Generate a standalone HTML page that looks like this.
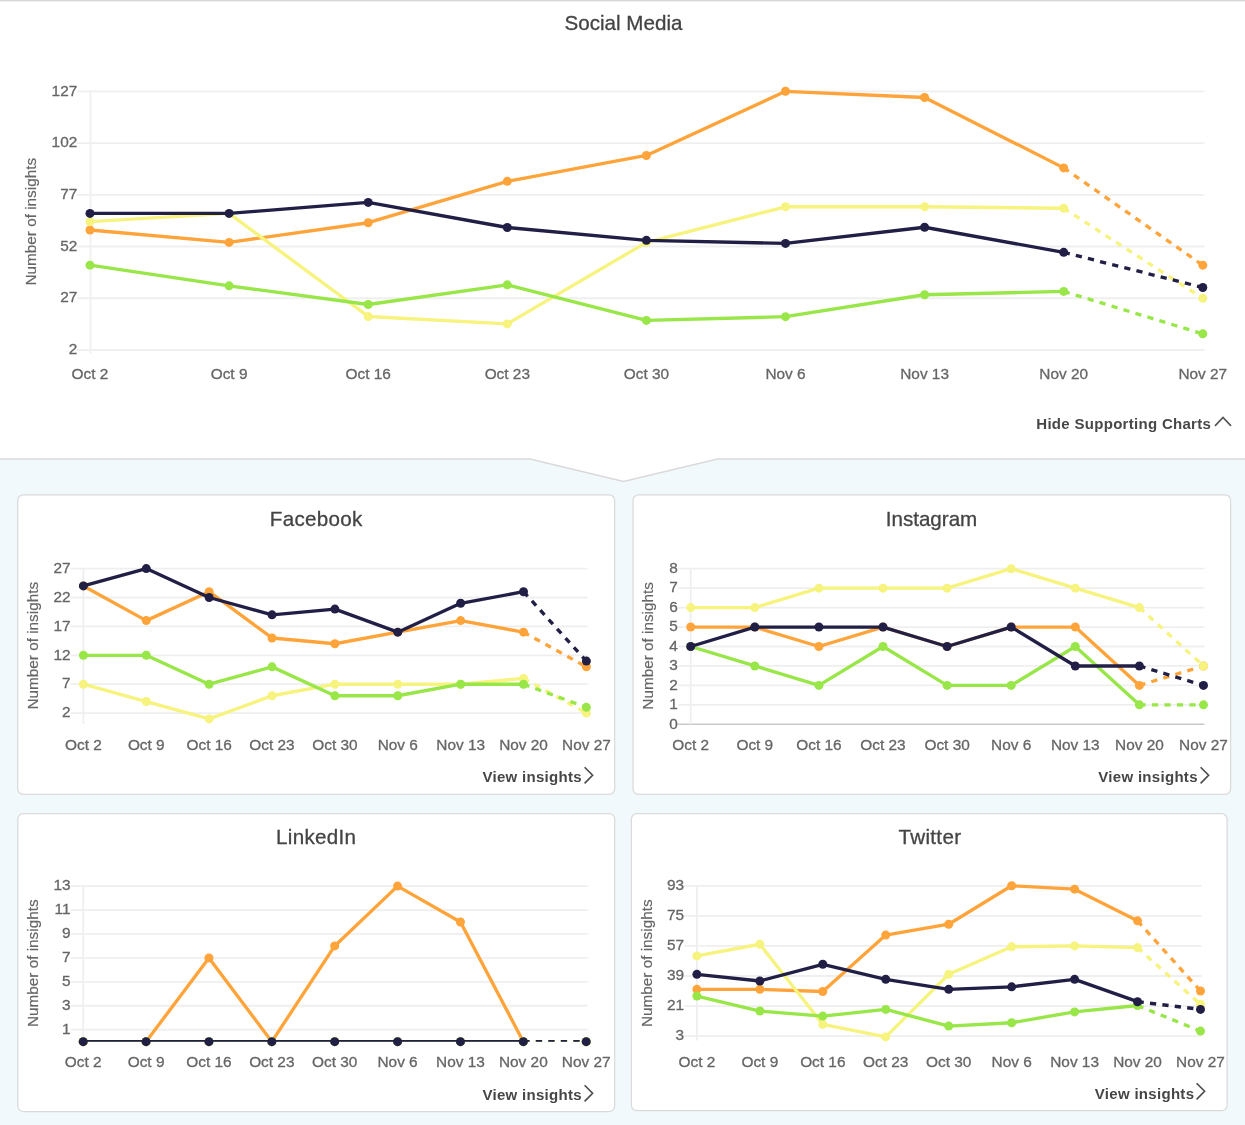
<!DOCTYPE html>
<html lang="en">
<head>
<meta charset="utf-8">
<title>Social Media</title>
<style>
html,body{margin:0;padding:0}
body{width:1245px;height:1125px;position:relative;overflow:hidden;background:#f2f9fd;
 font-family:"Liberation Sans",Arial,Helvetica,sans-serif;color:#444}
.page{position:absolute;left:-20px;top:-20px;width:1285px;height:1165px;background:#f2f9fd;filter:blur(.4px)}
.wrap{position:absolute;left:20px;top:20px;width:1245px;height:1125px}
.top{position:absolute;left:-20px;top:-20px;width:1285px;height:479px;background:#fff}
.topc{position:absolute;left:0;top:0;width:1245px;height:459px}
.topline{position:absolute;left:-20px;top:-20px;width:1285px;height:22px;background:linear-gradient(#d7d7d7 0,#d7d7d7 21px,#f1f1f1 21px,#f1f1f1 22px)}
h2{position:absolute;left:0;top:11px;-webkit-text-stroke:.3px #444;width:1247px;margin:0;text-align:center;font-size:20.6px;line-height:24px;font-weight:400;color:#444}
svg.ch{position:absolute;overflow:visible}
svg text{font-family:"Liberation Sans",Arial,Helvetica,sans-serif}
.tk text{font-size:15.4px;fill:#666;stroke:#666;stroke-width:.3px}
.yt{font-size:15.3px;fill:#666;stroke:#666;stroke-width:.2px}
.hide{position:absolute;right:33.8px;top:413.5px;font-size:15px;letter-spacing:.3px;line-height:20px;font-weight:700;color:#484848;white-space:nowrap;text-decoration:none}
.hide svg{position:absolute;left:100%;top:2px;margin-left:3.2px}
.sep{position:absolute;left:0;top:440px}
.card{position:absolute}
.card h3{position:absolute;width:300px;margin:0;-webkit-text-stroke:.3px #444;text-align:center;font-size:20.6px;letter-spacing:.3px;line-height:24px;font-weight:400;color:#444}
.vi{position:absolute;font-size:15px;letter-spacing:.3px;line-height:20px;font-weight:700;color:#464646;white-space:nowrap}
.vi .chev{position:absolute;left:100%;top:-1.3px;margin-left:1px}
</style>
</head>
<body>
<main class="page">
<div class="wrap">
<div class="top"></div>
<div class="topline"></div>
<div class="topc">
<h2>Social Media</h2>

<svg class="ch" style="left:0px;top:50px" width="1245" height="350" viewBox="0 50 1245 350">
<g stroke="#efefef" stroke-width="1.8" fill="none">
<line x1="77" y1="91.3" x2="1204.5" y2="91.3"/>
<line x1="77" y1="143.04" x2="1204.5" y2="143.04"/>
<line x1="77" y1="194.78" x2="1204.5" y2="194.78"/>
<line x1="77" y1="246.52" x2="1204.5" y2="246.52"/>
<line x1="77" y1="298.26" x2="1204.5" y2="298.26"/>
<line x1="77" y1="350" x2="1204.5" y2="350"/>
<line x1="90.5" y1="91.3" x2="90.5" y2="353.6"/>
</g>
<g class="tk" text-anchor="end">
<text x="77.3" y="95.5">127</text>
<text x="77.3" y="147.24">102</text>
<text x="77.3" y="198.98">77</text>
<text x="77.3" y="250.72">52</text>
<text x="77.3" y="302.46">27</text>
<text x="77.3" y="354.2">2</text>
</g>
<g class="tk" text-anchor="middle">
<text x="90" y="378.5">Oct 2</text>
<text x="229.1" y="378.5">Oct 9</text>
<text x="368.2" y="378.5">Oct 16</text>
<text x="507.3" y="378.5">Oct 23</text>
<text x="646.4" y="378.5">Oct 30</text>
<text x="785.5" y="378.5">Nov 6</text>
<text x="924.6" y="378.5">Nov 13</text>
<text x="1063.7" y="378.5">Nov 20</text>
<text x="1202.8" y="378.5">Nov 27</text>
</g>
<text class="yt" text-anchor="middle" transform="translate(36 221.7) rotate(-90)">Number of insights</text>
<g stroke="#ffa43a" fill="#ffa43a">
<polyline points="90,229.96 229.1,242.38 368.2,222.72 507.3,181.33 646.4,155.46 785.5,91.3 924.6,97.51 1063.7,167.88" fill="none" stroke-width="3.35" stroke-linejoin="round"/>
<line x1="1063.7" y1="167.88" x2="1202.8" y2="265.15" stroke-width="3.35" stroke-dasharray="6.25 6.25"/>
<g stroke="none"><circle cx="90" cy="229.96" r="4.5"/><circle cx="229.1" cy="242.38" r="4.5"/><circle cx="368.2" cy="222.72" r="4.5"/><circle cx="507.3" cy="181.33" r="4.5"/><circle cx="646.4" cy="155.46" r="4.5"/><circle cx="785.5" cy="91.3" r="4.5"/><circle cx="924.6" cy="97.51" r="4.5"/><circle cx="1063.7" cy="167.88" r="4.5"/><circle cx="1202.8" cy="265.15" r="4.5"/></g>
</g>
<g stroke="#f6f37e" fill="#f6f37e">
<polyline points="90,221.68 229.1,213.41 368.2,316.47 507.3,323.92 646.4,242.38 785.5,206.78 924.6,206.78 1063.7,208.23" fill="none" stroke-width="3.35" stroke-linejoin="round"/>
<line x1="1063.7" y1="208.23" x2="1202.8" y2="298.26" stroke-width="3.35" stroke-dasharray="6.25 6.25"/>
<g stroke="none"><circle cx="90" cy="221.68" r="4.5"/><circle cx="229.1" cy="213.41" r="4.5"/><circle cx="368.2" cy="316.47" r="4.5"/><circle cx="507.3" cy="323.92" r="4.5"/><circle cx="646.4" cy="242.38" r="4.5"/><circle cx="785.5" cy="206.78" r="4.5"/><circle cx="924.6" cy="206.78" r="4.5"/><circle cx="1063.7" cy="208.23" r="4.5"/><circle cx="1202.8" cy="298.26" r="4.5"/></g>
</g>
<g stroke="#98e648" fill="#98e648">
<polyline points="90,265.15 229.1,285.84 368.2,304.47 507.3,284.81 646.4,320.4 785.5,316.68 924.6,294.74 1063.7,291.43" fill="none" stroke-width="3.35" stroke-linejoin="round"/>
<line x1="1063.7" y1="291.43" x2="1202.8" y2="333.86" stroke-width="3.35" stroke-dasharray="6.25 6.25"/>
<g stroke="none"><circle cx="90" cy="265.15" r="4.5"/><circle cx="229.1" cy="285.84" r="4.5"/><circle cx="368.2" cy="304.47" r="4.5"/><circle cx="507.3" cy="284.81" r="4.5"/><circle cx="646.4" cy="320.4" r="4.5"/><circle cx="785.5" cy="316.68" r="4.5"/><circle cx="924.6" cy="294.74" r="4.5"/><circle cx="1063.7" cy="291.43" r="4.5"/><circle cx="1202.8" cy="333.86" r="4.5"/></g>
</g>
<g stroke="#211f45" fill="#211f45">
<polyline points="90,213.41 229.1,213.41 368.2,202.44 507.3,227.48 646.4,240.31 785.5,243.42 924.6,227.27 1063.7,252.31" fill="none" stroke-width="3.35" stroke-linejoin="round"/>
<line x1="1063.7" y1="252.31" x2="1202.8" y2="287.5" stroke-width="3.35" stroke-dasharray="6.25 6.25"/>
<g stroke="none"><circle cx="90" cy="213.41" r="4.5"/><circle cx="229.1" cy="213.41" r="4.5"/><circle cx="368.2" cy="202.44" r="4.5"/><circle cx="507.3" cy="227.48" r="4.5"/><circle cx="646.4" cy="240.31" r="4.5"/><circle cx="785.5" cy="243.42" r="4.5"/><circle cx="924.6" cy="227.27" r="4.5"/><circle cx="1063.7" cy="252.31" r="4.5"/><circle cx="1202.8" cy="287.5" r="4.5"/></g>
</g>
</svg>
<a class="hide">Hide Supporting Charts<svg width="18" height="11" viewBox="0 0 18 11"><polyline points="1,9.8 9,1.5 17,9.8" fill="none" stroke="#555" stroke-width="1.7"/></svg></a>
</div>
<svg class="sep" width="1245" height="50" viewBox="0 440 1245 50"><path d="M-1 430 L-1 459 L530 459 L623.5 481.5 L717.5 459 L1246 459 L1246 430 Z" fill="#fff" stroke="#d9d9d9" stroke-width="1.35"/></svg>
<section class="card fb" style="left:16px;top:493px;width:600px;height:303px">
<svg class="ch" style="left:0;top:0" width="600" height="303" viewBox="16 493 600 303">
<rect x="17.7" y="494.9" width="597" height="299.4" rx="5.5" fill="#fff" stroke="#dadada" stroke-width="1.25"/>
<g stroke="#efefef" stroke-width="1.8" fill="none">
<line x1="70.5" y1="568.6" x2="587.5" y2="568.6"/>
<line x1="70.5" y1="597.5" x2="587.5" y2="597.5"/>
<line x1="70.5" y1="626.4" x2="587.5" y2="626.4"/>
<line x1="70.5" y1="655.3" x2="587.5" y2="655.3"/>
<line x1="70.5" y1="684.2" x2="587.5" y2="684.2"/>
<line x1="70.5" y1="713.1" x2="587.5" y2="713.1"/>
<line x1="83.4" y1="568.6" x2="83.4" y2="724"/>
</g>
<g class="tk" text-anchor="end">
<text x="70.5" y="572.8">27</text>
<text x="70.5" y="601.7">22</text>
<text x="70.5" y="630.6">17</text>
<text x="70.5" y="659.5">12</text>
<text x="70.5" y="688.4">7</text>
<text x="70.5" y="717.3">2</text>
</g>
<g class="tk" text-anchor="middle">
<text x="83.4" y="750">Oct 2</text>
<text x="146.28" y="750">Oct 9</text>
<text x="209.15" y="750">Oct 16</text>
<text x="272.02" y="750">Oct 23</text>
<text x="334.9" y="750">Oct 30</text>
<text x="397.77" y="750">Nov 6</text>
<text x="460.65" y="750">Nov 13</text>
<text x="523.52" y="750">Nov 20</text>
<text x="586.4" y="750">Nov 27</text>
</g>
<text class="yt" text-anchor="middle" transform="translate(38.2 645.7) rotate(-90)">Number of insights</text>
<g stroke="#ffa43a" fill="#ffa43a">
<polyline points="83.4,585.94 146.28,620.62 209.15,591.72 272.02,637.96 334.9,643.74 397.77,632.18 460.65,620.62 523.52,632.18" fill="none" stroke-width="3.35" stroke-linejoin="round"/>
<line x1="523.52" y1="632.18" x2="586.4" y2="666.86" stroke-width="3.35" stroke-dasharray="6.25 6.25"/>
<g stroke="none"><circle cx="83.4" cy="585.94" r="4.5"/><circle cx="146.28" cy="620.62" r="4.5"/><circle cx="209.15" cy="591.72" r="4.5"/><circle cx="272.02" cy="637.96" r="4.5"/><circle cx="334.9" cy="643.74" r="4.5"/><circle cx="397.77" cy="632.18" r="4.5"/><circle cx="460.65" cy="620.62" r="4.5"/><circle cx="523.52" cy="632.18" r="4.5"/><circle cx="586.4" cy="666.86" r="4.5"/></g>
</g>
<g stroke="#f6f37e" fill="#f6f37e">
<polyline points="83.4,684.2 146.28,701.54 209.15,718.88 272.02,695.76 334.9,684.2 397.77,684.2 460.65,684.2 523.52,678.42" fill="none" stroke-width="3.35" stroke-linejoin="round"/>
<line x1="523.52" y1="678.42" x2="586.4" y2="713.1" stroke-width="3.35" stroke-dasharray="6.25 6.25"/>
<g stroke="none"><circle cx="83.4" cy="684.2" r="4.5"/><circle cx="146.28" cy="701.54" r="4.5"/><circle cx="209.15" cy="718.88" r="4.5"/><circle cx="272.02" cy="695.76" r="4.5"/><circle cx="334.9" cy="684.2" r="4.5"/><circle cx="397.77" cy="684.2" r="4.5"/><circle cx="460.65" cy="684.2" r="4.5"/><circle cx="523.52" cy="678.42" r="4.5"/><circle cx="586.4" cy="713.1" r="4.5"/></g>
</g>
<g stroke="#98e648" fill="#98e648">
<polyline points="83.4,655.3 146.28,655.3 209.15,684.2 272.02,666.86 334.9,695.76 397.77,695.76 460.65,684.2 523.52,684.2" fill="none" stroke-width="3.35" stroke-linejoin="round"/>
<line x1="523.52" y1="684.2" x2="586.4" y2="707.32" stroke-width="3.35" stroke-dasharray="6.25 6.25"/>
<g stroke="none"><circle cx="83.4" cy="655.3" r="4.5"/><circle cx="146.28" cy="655.3" r="4.5"/><circle cx="209.15" cy="684.2" r="4.5"/><circle cx="272.02" cy="666.86" r="4.5"/><circle cx="334.9" cy="695.76" r="4.5"/><circle cx="397.77" cy="695.76" r="4.5"/><circle cx="460.65" cy="684.2" r="4.5"/><circle cx="523.52" cy="684.2" r="4.5"/><circle cx="586.4" cy="707.32" r="4.5"/></g>
</g>
<g stroke="#211f45" fill="#211f45">
<polyline points="83.4,585.94 146.28,568.6 209.15,597.5 272.02,614.84 334.9,609.06 397.77,632.18 460.65,603.28 523.52,591.72" fill="none" stroke-width="3.35" stroke-linejoin="round"/>
<line x1="523.52" y1="591.72" x2="586.4" y2="661.08" stroke-width="3.35" stroke-dasharray="6.25 6.25"/>
<g stroke="none"><circle cx="83.4" cy="585.94" r="4.5"/><circle cx="146.28" cy="568.6" r="4.5"/><circle cx="209.15" cy="597.5" r="4.5"/><circle cx="272.02" cy="614.84" r="4.5"/><circle cx="334.9" cy="609.06" r="4.5"/><circle cx="397.77" cy="632.18" r="4.5"/><circle cx="460.65" cy="603.28" r="4.5"/><circle cx="523.52" cy="591.72" r="4.5"/><circle cx="586.4" cy="661.08" r="4.5"/></g>
</g>
</svg>
<h3 style="left:150.2px;top:13.6px">Facebook</h3>
<a class="vi" style="right:34.1px;top:274.1px">View insights<svg class="chev" width="12" height="19" viewBox="0 0 12 19"><polyline points="1.6,1.2 9.6,9.3 1.6,17.4" fill="none" stroke="#4a4a4a" stroke-width="1.6"/></svg></a>
</section>
<section class="card ig" style="left:632px;top:493px;width:600px;height:303px">
<svg class="ch" style="left:0;top:0" width="600" height="303" viewBox="632 493 600 303">
<rect x="633" y="494.9" width="597.6" height="299.5" rx="5.5" fill="#fff" stroke="#dadada" stroke-width="1.25"/>
<g stroke="#efefef" stroke-width="1.8" fill="none">
<line x1="678" y1="568.7" x2="1204.5" y2="568.7"/>
<line x1="678" y1="588.15" x2="1204.5" y2="588.15"/>
<line x1="678" y1="607.6" x2="1204.5" y2="607.6"/>
<line x1="678" y1="627.05" x2="1204.5" y2="627.05"/>
<line x1="678" y1="646.5" x2="1204.5" y2="646.5"/>
<line x1="678" y1="665.95" x2="1204.5" y2="665.95"/>
<line x1="678" y1="685.4" x2="1204.5" y2="685.4"/>
<line x1="678" y1="704.85" x2="1204.5" y2="704.85"/>
<line x1="678" y1="724.3" x2="1204.5" y2="724.3" stroke="#c9c9c9" stroke-width="1.5"/>
<line x1="690.7" y1="568.7" x2="690.7" y2="724.3"/>
</g>
<g class="tk" text-anchor="end">
<text x="677.8" y="572.9">8</text>
<text x="677.8" y="592.35">7</text>
<text x="677.8" y="611.8">6</text>
<text x="677.8" y="631.25">5</text>
<text x="677.8" y="650.7">4</text>
<text x="677.8" y="670.15">3</text>
<text x="677.8" y="689.6">2</text>
<text x="677.8" y="709.05">1</text>
<text x="677.8" y="728.5">0</text>
</g>
<g class="tk" text-anchor="middle">
<text x="690.7" y="750">Oct 2</text>
<text x="754.8" y="750">Oct 9</text>
<text x="818.9" y="750">Oct 16</text>
<text x="883" y="750">Oct 23</text>
<text x="947.1" y="750">Oct 30</text>
<text x="1011.2" y="750">Nov 6</text>
<text x="1075.3" y="750">Nov 13</text>
<text x="1139.4" y="750">Nov 20</text>
<text x="1203.5" y="750">Nov 27</text>
</g>
<text class="yt" text-anchor="middle" transform="translate(653 645.9) rotate(-90)">Number of insights</text>
<g stroke="#ffa43a" fill="#ffa43a">
<polyline points="690.7,627.05 754.8,627.05 818.9,646.5 883,627.05 947.1,646.5 1011.2,627.05 1075.3,627.05 1139.4,685.4" fill="none" stroke-width="3.35" stroke-linejoin="round"/>
<line x1="1139.4" y1="685.4" x2="1203.5" y2="665.95" stroke-width="3.35" stroke-dasharray="6.25 6.25"/>
<g stroke="none"><circle cx="690.7" cy="627.05" r="4.5"/><circle cx="754.8" cy="627.05" r="4.5"/><circle cx="818.9" cy="646.5" r="4.5"/><circle cx="883" cy="627.05" r="4.5"/><circle cx="947.1" cy="646.5" r="4.5"/><circle cx="1011.2" cy="627.05" r="4.5"/><circle cx="1075.3" cy="627.05" r="4.5"/><circle cx="1139.4" cy="685.4" r="4.5"/><circle cx="1203.5" cy="665.95" r="4.5"/></g>
</g>
<g stroke="#f6f37e" fill="#f6f37e">
<polyline points="690.7,607.6 754.8,607.6 818.9,588.15 883,588.15 947.1,588.15 1011.2,568.7 1075.3,588.15 1139.4,607.6" fill="none" stroke-width="3.35" stroke-linejoin="round"/>
<line x1="1139.4" y1="607.6" x2="1203.5" y2="665.95" stroke-width="3.35" stroke-dasharray="6.25 6.25"/>
<g stroke="none"><circle cx="690.7" cy="607.6" r="4.5"/><circle cx="754.8" cy="607.6" r="4.5"/><circle cx="818.9" cy="588.15" r="4.5"/><circle cx="883" cy="588.15" r="4.5"/><circle cx="947.1" cy="588.15" r="4.5"/><circle cx="1011.2" cy="568.7" r="4.5"/><circle cx="1075.3" cy="588.15" r="4.5"/><circle cx="1139.4" cy="607.6" r="4.5"/><circle cx="1203.5" cy="665.95" r="4.5"/></g>
</g>
<g stroke="#98e648" fill="#98e648">
<polyline points="690.7,646.5 754.8,665.95 818.9,685.4 883,646.5 947.1,685.4 1011.2,685.4 1075.3,646.5 1139.4,704.85" fill="none" stroke-width="3.35" stroke-linejoin="round"/>
<line x1="1139.4" y1="704.85" x2="1203.5" y2="704.85" stroke-width="3.35" stroke-dasharray="6.25 6.25"/>
<g stroke="none"><circle cx="690.7" cy="646.5" r="4.5"/><circle cx="754.8" cy="665.95" r="4.5"/><circle cx="818.9" cy="685.4" r="4.5"/><circle cx="883" cy="646.5" r="4.5"/><circle cx="947.1" cy="685.4" r="4.5"/><circle cx="1011.2" cy="685.4" r="4.5"/><circle cx="1075.3" cy="646.5" r="4.5"/><circle cx="1139.4" cy="704.85" r="4.5"/><circle cx="1203.5" cy="704.85" r="4.5"/></g>
</g>
<g stroke="#211f45" fill="#211f45">
<polyline points="690.7,646.5 754.8,627.05 818.9,627.05 883,627.05 947.1,646.5 1011.2,627.05 1075.3,665.95 1139.4,665.95" fill="none" stroke-width="3.35" stroke-linejoin="round"/>
<line x1="1139.4" y1="665.95" x2="1203.5" y2="685.4" stroke-width="3.35" stroke-dasharray="6.25 6.25"/>
<g stroke="none"><circle cx="690.7" cy="646.5" r="4.5"/><circle cx="754.8" cy="627.05" r="4.5"/><circle cx="818.9" cy="627.05" r="4.5"/><circle cx="883" cy="627.05" r="4.5"/><circle cx="947.1" cy="646.5" r="4.5"/><circle cx="1011.2" cy="627.05" r="4.5"/><circle cx="1075.3" cy="665.95" r="4.5"/><circle cx="1139.4" cy="665.95" r="4.5"/><circle cx="1203.5" cy="685.4" r="4.5"/></g>
</g>
</svg>
<h3 style="left:149.5px;top:13.6px;letter-spacing:0px">Instagram</h3>
<a class="vi" style="right:34.2px;top:274.2px">View insights<svg class="chev" width="12" height="19" viewBox="0 0 12 19"><polyline points="1.6,1.2 9.6,9.3 1.6,17.4" fill="none" stroke="#4a4a4a" stroke-width="1.6"/></svg></a>
</section>
<section class="card li" style="left:16px;top:812px;width:600px;height:301px">
<svg class="ch" style="left:0;top:0" width="600" height="301" viewBox="16 812 600 301">
<rect x="17.8" y="813.6" width="596.9" height="297.9" rx="5.5" fill="#fff" stroke="#dadada" stroke-width="1.25"/>
<g stroke="#efefef" stroke-width="1.8" fill="none">
<line x1="70.5" y1="886.1" x2="587.5" y2="886.1"/>
<line x1="70.5" y1="910.03" x2="587.5" y2="910.03"/>
<line x1="70.5" y1="933.97" x2="587.5" y2="933.97"/>
<line x1="70.5" y1="957.9" x2="587.5" y2="957.9"/>
<line x1="70.5" y1="981.83" x2="587.5" y2="981.83"/>
<line x1="70.5" y1="1005.77" x2="587.5" y2="1005.77"/>
<line x1="70.5" y1="1029.7" x2="587.5" y2="1029.7"/>
<line x1="83.2" y1="886.1" x2="83.2" y2="1041.7"/>
</g>
<g class="tk" text-anchor="end">
<text x="70.5" y="890.3">13</text>
<text x="70.5" y="914.23">11</text>
<text x="70.5" y="938.17">9</text>
<text x="70.5" y="962.1">7</text>
<text x="70.5" y="986.03">5</text>
<text x="70.5" y="1009.97">3</text>
<text x="70.5" y="1033.9">1</text>
</g>
<g class="tk" text-anchor="middle">
<text x="83.2" y="1067">Oct 2</text>
<text x="146.07" y="1067">Oct 9</text>
<text x="208.95" y="1067">Oct 16</text>
<text x="271.82" y="1067">Oct 23</text>
<text x="334.7" y="1067">Oct 30</text>
<text x="397.57" y="1067">Nov 6</text>
<text x="460.45" y="1067">Nov 13</text>
<text x="523.33" y="1067">Nov 20</text>
<text x="586.2" y="1067">Nov 27</text>
</g>
<text class="yt" text-anchor="middle" transform="translate(38 963.2) rotate(-90)">Number of insights</text>
<clipPath id="cli"><rect x="81.2" y="881.1" width="510.3" height="160.6"/></clipPath>
<g stroke="#ffa43a" fill="#ffa43a">
<polyline clip-path="url(#cli)" points="83.2,1041.67 146.07,1041.67 208.95,957.9 271.82,1041.67 334.7,945.93 397.57,886.1 460.45,922 523.33,1041.67" fill="none" stroke-width="3.35" stroke-linejoin="round"/>
<line clip-path="url(#cli)" x1="523.33" y1="1041.67" x2="586.2" y2="1041.67" stroke-width="3.35" stroke-dasharray="6.25 6.25"/>
<g stroke="none"><circle cx="83.2" cy="1041.67" r="4.5"/><circle cx="146.07" cy="1041.67" r="4.5"/><circle cx="208.95" cy="957.9" r="4.5"/><circle cx="271.82" cy="1041.67" r="4.5"/><circle cx="334.7" cy="945.93" r="4.5"/><circle cx="397.57" cy="886.1" r="4.5"/><circle cx="460.45" cy="922" r="4.5"/><circle cx="523.33" cy="1041.67" r="4.5"/><circle cx="586.2" cy="1041.67" r="4.5"/></g>
</g>
<g stroke="#f6f37e" fill="#f6f37e">
<polyline clip-path="url(#cli)" points="83.2,1041.67 146.07,1041.67 208.95,1041.67 271.82,1041.67 334.7,1041.67 397.57,1041.67 460.45,1041.67 523.33,1041.67" fill="none" stroke-width="3.35" stroke-linejoin="round"/>
<line clip-path="url(#cli)" x1="523.33" y1="1041.67" x2="586.2" y2="1041.67" stroke-width="3.35" stroke-dasharray="6.25 6.25"/>
<g stroke="none"><circle cx="83.2" cy="1041.67" r="4.5"/><circle cx="146.07" cy="1041.67" r="4.5"/><circle cx="208.95" cy="1041.67" r="4.5"/><circle cx="271.82" cy="1041.67" r="4.5"/><circle cx="334.7" cy="1041.67" r="4.5"/><circle cx="397.57" cy="1041.67" r="4.5"/><circle cx="460.45" cy="1041.67" r="4.5"/><circle cx="523.33" cy="1041.67" r="4.5"/><circle cx="586.2" cy="1041.67" r="4.5"/></g>
</g>
<g stroke="#98e648" fill="#98e648">
<polyline clip-path="url(#cli)" points="83.2,1041.67 146.07,1041.67 208.95,1041.67 271.82,1041.67 334.7,1041.67 397.57,1041.67 460.45,1041.67 523.33,1041.67" fill="none" stroke-width="3.35" stroke-linejoin="round"/>
<line clip-path="url(#cli)" x1="523.33" y1="1041.67" x2="586.2" y2="1041.67" stroke-width="3.35" stroke-dasharray="6.25 6.25"/>
<g stroke="none"><circle cx="83.2" cy="1041.67" r="4.5"/><circle cx="146.07" cy="1041.67" r="4.5"/><circle cx="208.95" cy="1041.67" r="4.5"/><circle cx="271.82" cy="1041.67" r="4.5"/><circle cx="334.7" cy="1041.67" r="4.5"/><circle cx="397.57" cy="1041.67" r="4.5"/><circle cx="460.45" cy="1041.67" r="4.5"/><circle cx="523.33" cy="1041.67" r="4.5"/><circle cx="586.2" cy="1041.67" r="4.5"/></g>
</g>
<g stroke="#211f45" fill="#211f45">
<polyline clip-path="url(#cli)" points="83.2,1041.67 146.07,1041.67 208.95,1041.67 271.82,1041.67 334.7,1041.67 397.57,1041.67 460.45,1041.67 523.33,1041.67" fill="none" stroke-width="3.35" stroke-linejoin="round"/>
<line clip-path="url(#cli)" x1="523.33" y1="1041.67" x2="586.2" y2="1041.67" stroke-width="3.35" stroke-dasharray="6.25 6.25"/>
<g stroke="none"><circle cx="83.2" cy="1041.67" r="4.5"/><circle cx="146.07" cy="1041.67" r="4.5"/><circle cx="208.95" cy="1041.67" r="4.5"/><circle cx="271.82" cy="1041.67" r="4.5"/><circle cx="334.7" cy="1041.67" r="4.5"/><circle cx="397.57" cy="1041.67" r="4.5"/><circle cx="460.45" cy="1041.67" r="4.5"/><circle cx="523.33" cy="1041.67" r="4.5"/><circle cx="586.2" cy="1041.67" r="4.5"/></g>
</g>
</svg>
<h3 style="left:150.25px;top:13.3px">LinkedIn</h3>
<a class="vi" style="right:34.1px;top:273.1px">View insights<svg class="chev" width="12" height="19" viewBox="0 0 12 19"><polyline points="1.6,1.2 9.6,9.3 1.6,17.4" fill="none" stroke="#4a4a4a" stroke-width="1.6"/></svg></a>
</section>
<section class="card tw" style="left:630px;top:812px;width:599px;height:300px">
<svg class="ch" style="left:0;top:0" width="599" height="300" viewBox="630 812 599 300">
<rect x="631.4" y="813.7" width="595.7" height="297" rx="5.5" fill="#fff" stroke="#dadada" stroke-width="1.25"/>
<g stroke="#efefef" stroke-width="1.8" fill="none">
<line x1="684" y1="885.8" x2="1201.5" y2="885.8"/>
<line x1="684" y1="915.86" x2="1201.5" y2="915.86"/>
<line x1="684" y1="945.92" x2="1201.5" y2="945.92"/>
<line x1="684" y1="975.98" x2="1201.5" y2="975.98"/>
<line x1="684" y1="1006.04" x2="1201.5" y2="1006.04"/>
<line x1="684" y1="1036.1" x2="1201.5" y2="1036.1"/>
<line x1="696.9" y1="885.8" x2="696.9" y2="1040.6"/>
</g>
<g class="tk" text-anchor="end">
<text x="684" y="890">93</text>
<text x="684" y="920.06">75</text>
<text x="684" y="950.12">57</text>
<text x="684" y="980.18">39</text>
<text x="684" y="1010.24">21</text>
<text x="684" y="1040.3">3</text>
</g>
<g class="tk" text-anchor="middle">
<text x="696.9" y="1067">Oct 2</text>
<text x="759.85" y="1067">Oct 9</text>
<text x="822.8" y="1067">Oct 16</text>
<text x="885.75" y="1067">Oct 23</text>
<text x="948.7" y="1067">Oct 30</text>
<text x="1011.65" y="1067">Nov 6</text>
<text x="1074.6" y="1067">Nov 13</text>
<text x="1137.55" y="1067">Nov 20</text>
<text x="1200.5" y="1067">Nov 27</text>
</g>
<text class="yt" text-anchor="middle" transform="translate(652 963.2) rotate(-90)">Number of insights</text>
<g stroke="#ffa43a" fill="#ffa43a">
<polyline points="696.9,989.34 759.85,989.34 822.8,991.51 885.75,935.06 948.7,924.21 1011.65,885.8 1074.6,889.14 1137.55,920.87" fill="none" stroke-width="3.35" stroke-linejoin="round"/>
<line x1="1137.55" y1="920.87" x2="1200.5" y2="991.01" stroke-width="3.35" stroke-dasharray="6.25 6.25"/>
<g stroke="none"><circle cx="696.9" cy="989.34" r="4.5"/><circle cx="759.85" cy="989.34" r="4.5"/><circle cx="822.8" cy="991.51" r="4.5"/><circle cx="885.75" cy="935.06" r="4.5"/><circle cx="948.7" cy="924.21" r="4.5"/><circle cx="1011.65" cy="885.8" r="4.5"/><circle cx="1074.6" cy="889.14" r="4.5"/><circle cx="1137.55" cy="920.87" r="4.5"/><circle cx="1200.5" cy="991.01" r="4.5"/></g>
</g>
<g stroke="#f6f37e" fill="#f6f37e">
<polyline points="696.9,955.94 759.85,944.25 822.8,1024.41 885.75,1036.93 948.7,974.31 1011.65,946.75 1074.6,945.92 1137.55,947.59" fill="none" stroke-width="3.35" stroke-linejoin="round"/>
<line x1="1137.55" y1="947.59" x2="1200.5" y2="1004.37" stroke-width="3.35" stroke-dasharray="6.25 6.25"/>
<g stroke="none"><circle cx="696.9" cy="955.94" r="4.5"/><circle cx="759.85" cy="944.25" r="4.5"/><circle cx="822.8" cy="1024.41" r="4.5"/><circle cx="885.75" cy="1036.93" r="4.5"/><circle cx="948.7" cy="974.31" r="4.5"/><circle cx="1011.65" cy="946.75" r="4.5"/><circle cx="1074.6" cy="945.92" r="4.5"/><circle cx="1137.55" cy="947.59" r="4.5"/><circle cx="1200.5" cy="1004.37" r="4.5"/></g>
</g>
<g stroke="#98e648" fill="#98e648">
<polyline points="696.9,996.02 759.85,1011.05 822.8,1016.06 885.75,1009.38 948.7,1026.08 1011.65,1022.74 1074.6,1011.88 1137.55,1005.54" fill="none" stroke-width="3.35" stroke-linejoin="round"/>
<line x1="1137.55" y1="1005.54" x2="1200.5" y2="1031.09" stroke-width="3.35" stroke-dasharray="6.25 6.25"/>
<g stroke="none"><circle cx="696.9" cy="996.02" r="4.5"/><circle cx="759.85" cy="1011.05" r="4.5"/><circle cx="822.8" cy="1016.06" r="4.5"/><circle cx="885.75" cy="1009.38" r="4.5"/><circle cx="948.7" cy="1026.08" r="4.5"/><circle cx="1011.65" cy="1022.74" r="4.5"/><circle cx="1074.6" cy="1011.88" r="4.5"/><circle cx="1137.55" cy="1005.54" r="4.5"/><circle cx="1200.5" cy="1031.09" r="4.5"/></g>
</g>
<g stroke="#211f45" fill="#211f45">
<polyline points="696.9,974.31 759.85,980.99 822.8,964.29 885.75,979.32 948.7,989.34 1011.65,986.83 1074.6,979.32 1137.55,1001.7" fill="none" stroke-width="3.35" stroke-linejoin="round"/>
<line x1="1137.55" y1="1001.7" x2="1200.5" y2="1009.38" stroke-width="3.35" stroke-dasharray="6.25 6.25"/>
<g stroke="none"><circle cx="696.9" cy="974.31" r="4.5"/><circle cx="759.85" cy="980.99" r="4.5"/><circle cx="822.8" cy="964.29" r="4.5"/><circle cx="885.75" cy="979.32" r="4.5"/><circle cx="948.7" cy="989.34" r="4.5"/><circle cx="1011.65" cy="986.83" r="4.5"/><circle cx="1074.6" cy="979.32" r="4.5"/><circle cx="1137.55" cy="1001.7" r="4.5"/><circle cx="1200.5" cy="1009.38" r="4.5"/></g>
</g>
</svg>
<h3 style="left:149.95px;top:13.4px">Twitter</h3>
<a class="vi" style="right:34.7px;top:271.5px">View insights<svg class="chev" width="12" height="19" viewBox="0 0 12 19"><polyline points="1.6,1.2 9.6,9.3 1.6,17.4" fill="none" stroke="#4a4a4a" stroke-width="1.6"/></svg></a>
</section>
</div>
</main>
</body>
</html>
